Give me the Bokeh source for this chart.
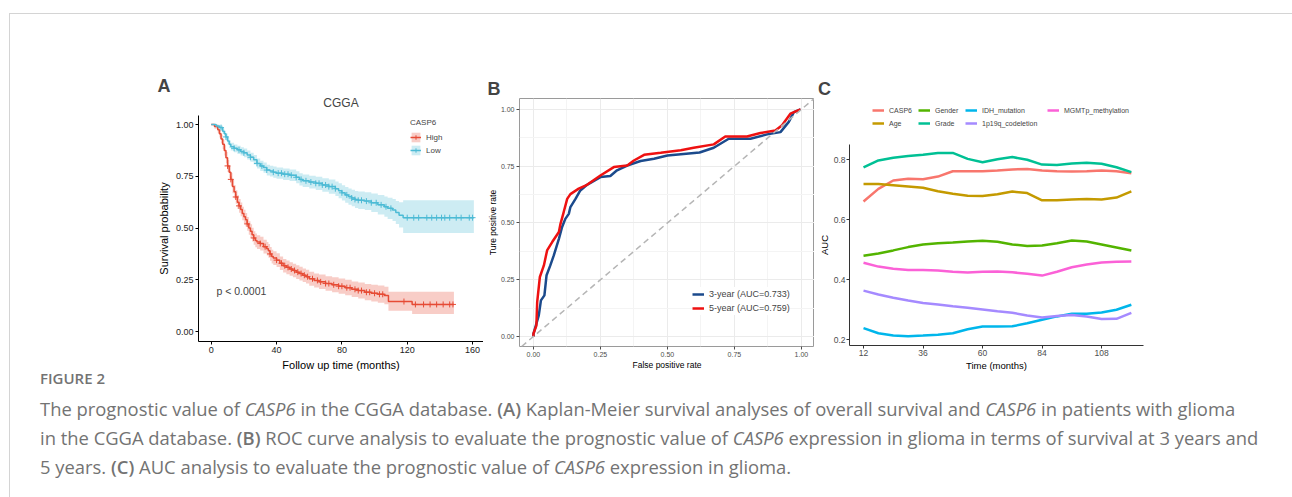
import numpy as np
from bokeh.plotting import figure
from bokeh.models import (Label, Legend, LegendItem, Slope, Div, Spacer, FixedTicker,
                          NumeralTickFormatter, Title)
from bokeh.layouts import row, column
from bokeh.embed import file_html
from bokeh.resources import INLINE

# ---------------- Panel A: Kaplan-Meier (CGGA) ----------------
high_t = [0, 2, 4, 5, 6, 7, 8, 9, 10, 11, 12, 13, 14, 15, 16, 17, 18, 19, 20, 21, 22, 23, 24, 25, 26, 27, 28,
          30, 32, 34, 35, 36, 37, 38, 40, 42, 44, 46, 48, 50, 52, 54, 56, 58, 60, 63, 66, 70, 74, 78, 82, 86,
          90, 94, 98, 102, 106, 108.5, 123, 148.6]
high_s = [1.000, 0.990, 0.975, 0.955, 0.930, 0.905, 0.875, 0.840, 0.800, 0.770, 0.735, 0.700, 0.675, 0.650,
          0.625, 0.607, 0.590, 0.570, 0.555, 0.540, 0.520, 0.500, 0.485, 0.468, 0.452, 0.440, 0.432,
          0.425, 0.410, 0.400, 0.390, 0.375, 0.362, 0.355, 0.345, 0.330, 0.318, 0.310, 0.302, 0.295, 0.287,
          0.280, 0.272, 0.265, 0.255, 0.247, 0.240, 0.232, 0.226, 0.219, 0.212, 0.204,
          0.198, 0.190, 0.185, 0.180, 0.174, 0.145, 0.131, 0.131]
high_lo = [1.000, 0.980, 0.960, 0.937, 0.909, 0.882, 0.850, 0.813, 0.771, 0.740, 0.704, 0.668, 0.643, 0.617,
           0.592, 0.574, 0.557, 0.537, 0.522, 0.507, 0.487, 0.467, 0.452, 0.435, 0.419, 0.407, 0.399,
           0.392, 0.377, 0.367, 0.357, 0.342, 0.329, 0.322, 0.312, 0.297, 0.285, 0.277, 0.269, 0.262, 0.254,
           0.247, 0.239, 0.232, 0.221, 0.213, 0.205, 0.197, 0.190, 0.183, 0.175, 0.167,
           0.160, 0.151, 0.145, 0.139, 0.132, 0.100, 0.085, 0.085]
high_hi = [1.000, 1.000, 0.990, 0.973, 0.951, 0.928, 0.900, 0.867, 0.829, 0.800, 0.766, 0.732, 0.707, 0.683,
           0.658, 0.640, 0.623, 0.603, 0.588, 0.573, 0.553, 0.533, 0.518, 0.501, 0.485, 0.473, 0.465,
           0.458, 0.443, 0.433, 0.423, 0.408, 0.395, 0.388, 0.378, 0.363, 0.351, 0.343, 0.335, 0.328, 0.320,
           0.313, 0.305, 0.298, 0.289, 0.281, 0.275, 0.267, 0.262, 0.256, 0.250, 0.242,
           0.237, 0.230, 0.226, 0.222, 0.217, 0.192, 0.192, 0.192]
high_censor = [10, 12, 15, 17, 22, 26, 30, 33, 36, 40, 43, 45, 47, 49, 51, 53, 55, 57, 59, 62, 65, 67, 70,
               72, 75, 78, 80, 83, 85, 88, 90, 92, 95, 97, 100, 103, 105, 118, 125, 130, 134, 138, 142, 146, 148]

low_t = [0, 3, 5, 7, 8, 9, 10, 11, 12, 14, 16, 18, 20, 22, 24, 26, 28, 30, 32, 34, 36, 38, 40, 44, 48, 52,
         54, 56, 60, 64, 68, 72, 76, 78, 80, 82, 84, 86, 88, 90, 94, 98, 102, 106, 108, 111, 113, 115, 117.5,
         160.8]
low_s = [1.000, 0.993, 0.985, 0.968, 0.955, 0.940, 0.920, 0.905, 0.893, 0.885, 0.878, 0.870, 0.863, 0.853,
         0.842, 0.830, 0.812, 0.800, 0.792, 0.780, 0.775, 0.770, 0.765, 0.760, 0.755, 0.745,
         0.735, 0.728, 0.722, 0.716, 0.708, 0.700, 0.690, 0.680, 0.670, 0.660, 0.652, 0.645, 0.638, 0.634,
         0.630, 0.622, 0.612, 0.603, 0.595, 0.587, 0.575, 0.562, 0.550, 0.550]
low_lo = [1.000, 0.986, 0.975, 0.955, 0.940, 0.924, 0.903, 0.887, 0.874, 0.866, 0.858, 0.850, 0.842, 0.831,
          0.820, 0.807, 0.788, 0.775, 0.767, 0.754, 0.749, 0.743, 0.738, 0.732, 0.727, 0.716,
          0.705, 0.698, 0.691, 0.684, 0.675, 0.666, 0.655, 0.644, 0.633, 0.622, 0.613, 0.605, 0.597, 0.592,
          0.587, 0.577, 0.565, 0.554, 0.544, 0.534, 0.519, 0.503, 0.476, 0.476]
low_hi = [1.000, 1.000, 0.995, 0.981, 0.970, 0.956, 0.937, 0.923, 0.912, 0.904, 0.898, 0.890, 0.884, 0.875,
          0.864, 0.853, 0.836, 0.825, 0.817, 0.806, 0.801, 0.797, 0.792, 0.788, 0.783, 0.774,
          0.765, 0.758, 0.753, 0.748, 0.741, 0.734, 0.725, 0.716, 0.707, 0.698, 0.691, 0.685, 0.679, 0.676,
          0.673, 0.667, 0.659, 0.652, 0.646, 0.640, 0.631, 0.624, 0.634, 0.634]
low_censor = [6, 9, 14, 17, 20, 24, 28, 31, 34, 38, 41, 43, 45, 47, 49, 52, 55, 58, 61, 64, 66, 68, 70, 72,
              74, 76, 80, 83, 86, 88, 90, 92, 95, 98, 101, 104, 107, 110, 120, 124, 127, 132, 135, 138, 141,
              143, 146, 150, 153, 158, 160]

# ---------------- Panel B: ROC ----------------
roc3_fpr = [0.0, 0.0, 0.020, 0.028, 0.041, 0.049, 0.063, 0.076, 0.095, 0.107, 0.119, 0.132, 0.138, 0.157,
            0.175, 0.200, 0.250, 0.287, 0.312, 0.350, 0.400, 0.450, 0.500, 0.620, 0.673, 0.729, 0.810, 0.872,
            0.922, 0.953, 0.972, 0.997]
roc3_tpr = [0.0, 0.012, 0.093, 0.159, 0.181, 0.270, 0.313, 0.357, 0.430, 0.482, 0.518, 0.540, 0.570, 0.606,
            0.643, 0.668, 0.702, 0.707, 0.732, 0.753, 0.773, 0.783, 0.797, 0.810, 0.831, 0.871, 0.871, 0.890,
            0.900, 0.945, 0.988, 1.000]
roc5_fpr = [0.0, 0.0, 0.011, 0.014, 0.024, 0.039, 0.051, 0.070, 0.095, 0.101, 0.113, 0.126, 0.138, 0.169,
            0.200, 0.250, 0.300, 0.350, 0.375, 0.413, 0.475, 0.550, 0.598, 0.673, 0.716, 0.797, 0.847, 0.903,
            0.928, 0.959, 0.997]
roc5_tpr = [0.0, 0.012, 0.048, 0.151, 0.262, 0.313, 0.379, 0.416, 0.460, 0.496, 0.548, 0.606, 0.627, 0.651,
            0.668, 0.709, 0.746, 0.753, 0.775, 0.800, 0.809, 0.820, 0.831, 0.846, 0.881, 0.881, 0.896, 0.907,
            0.930, 0.981, 1.000]
roc_labels = ["3-year (AUC=0.733)", "5-year (AUC=0.759)"]

# ---------------- Panel C: time-dependent AUC ----------------
months = [12, 18, 24, 30, 36, 42, 48, 54, 60, 66, 72, 78, 84, 90, 96, 102, 108, 114, 120]
auc_series = {
    "CASP6": [0.660, 0.702, 0.730, 0.736, 0.734, 0.743, 0.761, 0.761, 0.761, 0.763, 0.767, 0.768, 0.763, 0.761,
              0.760, 0.761, 0.763, 0.761, 0.754],
    "Age": [0.718, 0.718, 0.714, 0.710, 0.706, 0.694, 0.686, 0.679, 0.678, 0.684, 0.693, 0.688, 0.664, 0.664,
            0.667, 0.668, 0.667, 0.673, 0.694],
    "Gender": [0.479, 0.487, 0.497, 0.508, 0.517, 0.521, 0.523, 0.527, 0.529, 0.526, 0.517, 0.512, 0.513, 0.521,
               0.530, 0.527, 0.517, 0.507, 0.497],
    "Grade": [0.774, 0.797, 0.806, 0.812, 0.816, 0.822, 0.822, 0.802, 0.791, 0.801, 0.808, 0.799, 0.783, 0.782,
              0.787, 0.789, 0.786, 0.774, 0.758],
    "IDH_mutation": [0.238, 0.221, 0.213, 0.211, 0.213, 0.216, 0.221, 0.234, 0.243, 0.243, 0.244, 0.254, 0.266,
                     0.277, 0.286, 0.286, 0.290, 0.299, 0.316],
    "1p19q_codeletion": [0.363, 0.350, 0.339, 0.330, 0.322, 0.317, 0.311, 0.306, 0.300, 0.294, 0.289, 0.280,
                         0.273, 0.278, 0.282, 0.277, 0.268, 0.269, 0.289],
    "MGMTp_methylation": [0.456, 0.443, 0.436, 0.432, 0.432, 0.430, 0.426, 0.423, 0.426, 0.427, 0.424, 0.419,
                          0.413, 0.426, 0.441, 0.450, 0.457, 0.459, 0.460],
}
auc_colors = {"CASP6": "#F8766D", "Age": "#C49A00", "Gender": "#53B400", "Grade": "#00C094",
              "IDH_mutation": "#00B6EB", "1p19q_codeletion": "#A58AFF", "MGMTp_methylation": "#FB61D7"}
# legend grid slot of each series: (row, column), filled column by column as ggplot does
auc_legend_slot = {"CASP6": (0, 0), "Age": (1, 0), "Gender": (0, 1), "Grade": (1, 1),
                   "IDH_mutation": (0, 2), "1p19q_codeletion": (1, 2), "MGMTp_methylation": (0, 3)}

FONT = "Liberation Sans"
RED = "#E64B35"
BLUE = "#4DBBD5"


def style_axes(p, tick_size, label_size, tick_color, line_color, lab_standoff=2, title_standoff=3):
    for ax in (p.xaxis[0], p.yaxis[0]):
        ax.major_label_text_font = FONT
        ax.major_label_text_font_size = tick_size
        ax.major_label_text_color = tick_color
        ax.axis_label_text_font = FONT
        ax.axis_label_text_font_size = label_size
        ax.axis_label_text_font_style = "normal"
        ax.axis_label_text_color = "black"
        ax.axis_line_color = line_color
        ax.major_tick_line_color = line_color
        ax.major_tick_out = 3
        ax.major_tick_in = 0
        ax.minor_tick_line_color = None
        ax.major_label_standoff = lab_standoff
        ax.axis_label_standoff = title_standoff


def panel_title(text, offset, size="18px", bold=True, align="left", standoff=0):
    return Title(text=text, align=align, offset=offset, text_font=FONT, text_font_size=size,
                 text_font_style="bold" if bold else "normal", standoff=standoff)


# ===== Panel A =====
pA = figure(width=333, height=298, x_range=(-7.8, 166.7), y_range=(-0.048, 1.0435),
            output_backend="svg", toolbar_location=None,
            min_border_left=48, min_border_right=0, min_border_top=39, min_border_bottom=33)
pA.grid.visible = False
pA.outline_line_color = None
pA.xaxis.axis_label = "Follow up time (months)"
pA.yaxis.axis_label = "Survival probability"
pA.xaxis.ticker = FixedTicker(ticks=[0, 40, 80, 120, 160])
pA.yaxis.ticker = FixedTicker(ticks=[0, 0.25, 0.5, 0.75, 1.0])
pA.yaxis.formatter = NumeralTickFormatter(format="0.00")
style_axes(pA, "9px", "11px", "#222222", "black")
pA.add_layout(panel_title("CGGA", 0, size="12px", bold=False, align="center", standoff=11), "above")
pA.add_layout(panel_title("A", -41, standoff=-15), "above")

items = []
for name, t, s, lo, hi, cens, col in [("High", high_t, high_s, high_lo, high_hi, high_censor, RED),
                                       ("Low", low_t, low_s, low_lo, low_hi, low_censor, BLUE)]:
    band = pA.varea_step(x=t, y1=lo, y2=hi, step_mode="after", fill_color=col, fill_alpha=0.28)
    ln = pA.step(t, s, mode="after", line_color=col, line_width=1.5)
    tt = np.array(t)
    idx = np.searchsorted(tt, np.array(cens), side="right") - 1
    cy = np.array(s)[idx]
    cm = pA.scatter(cens, cy, marker="cross", size=6, line_color=col, line_width=1)
    items.append(LegendItem(label=name, renderers=[band, ln, cm]))

legA = Legend(items=items, title="CASP6", location=(212, 185), orientation="vertical",
              glyph_width=11, glyph_height=12, label_height=12, spacing=1, padding=0, margin=0,
              label_standoff=5, background_fill_alpha=0, border_line_color=None,
              label_text_font=FONT, label_text_font_size="8px", title_text_font=FONT,
              title_text_font_size="8px", title_text_font_style="normal", title_standoff=4)
pA.add_layout(legA, "center")
pA.add_layout(Label(x=3.2, y=0.198, text="p < 0.0001", text_font=FONT, text_font_size="10.5px",
                    text_baseline="middle"))

# ===== Panel B =====
pB = figure(width=331, height=298, x_range=(-0.052, 1.049), y_range=(-0.044, 1.048),
            output_backend="svg", toolbar_location=None,
            min_border_left=36, min_border_right=0, min_border_top=22, min_border_bottom=28)
pB.outline_line_color = "#9a9a9a"
pB.outline_line_width = 1
ticksB = FixedTicker(ticks=[0, 0.25, 0.5, 0.75, 1.0], minor_ticks=[0.125, 0.375, 0.625, 0.875])
pB.xaxis.ticker = ticksB
pB.yaxis.ticker = ticksB
pB.xaxis.formatter = NumeralTickFormatter(format="0.00")
pB.yaxis.formatter = NumeralTickFormatter(format="0.00")
pB.xaxis.axis_label = "False positive rate"
pB.yaxis.axis_label = "Ture positive rate"
style_axes(pB, "7px", "8.5px", "#4d4d4d", "#4d4d4d", lab_standoff=1, title_standoff=0)
pB.xaxis.axis_line_color = None
pB.yaxis.axis_line_color = None
pB.grid.grid_line_color = "#ebebeb"
pB.grid.minor_grid_line_color = "#f4f4f4"
pB.add_layout(Slope(gradient=1, y_intercept=0, line_color="#b5b5b5", line_width=1.5, line_dash="6 4"))
l3 = pB.line(roc3_fpr, roc3_tpr, line_color="#1B4A8C", line_width=2.5)
l5 = pB.line(roc5_fpr, roc5_tpr, line_color="#EE1111", line_width=2.5)
legB = Legend(items=[LegendItem(label=roc_labels[0], renderers=[l3]),
                     LegendItem(label=roc_labels[1], renderers=[l5])],
              location=(173, 31), glyph_width=12, glyph_height=14, label_height=14, spacing=0,
              padding=7, margin=0, label_standoff=5, background_fill_color="white",
              background_fill_alpha=1, border_line_color=None,
              label_text_font=FONT, label_text_font_size="9px")
pB.add_layout(legB, "center")
pB.add_layout(panel_title("B", -32), "above")

# ===== Panel C: legend strip + plot =====
stripC = figure(width=346, height=59, x_range=(0, 346), y_range=(0, 59), output_backend="svg",
                toolbar_location=None, x_axis_type=None, y_axis_type=None,
                min_border_left=0, min_border_right=0, min_border_top=0, min_border_bottom=0)
stripC.grid.visible = False
stripC.outline_line_color = None
col_x = [58, 104, 151, 233]
row_vy = [20, 7]
for name in auc_series:
    # legend-only key renderer (draws nothing itself)
    key = stripC.line(x=[np.nan], y=[np.nan], line_color=auc_colors[name], line_width=2.5)
    rr, cc = auc_legend_slot[name]
    stripC.add_layout(Legend(items=[LegendItem(label=name, renderers=[key])],
                             location=(col_x[cc], row_vy[rr]), glyph_width=12, glyph_height=10,
                             label_height=10, padding=0, margin=0, spacing=0, label_standoff=5,
                             background_fill_alpha=0, border_line_color=None,
                             label_text_font=FONT, label_text_font_size="7px"), "center")
stripC.add_layout(Label(x=10, y=47, text="C", text_font=FONT, text_font_size="18px",
                        text_font_style="bold", text_align="center", text_baseline="middle"))

pC = figure(width=346, height=239, x_range=(6.35, 124.9), y_range=(0.18, 0.85),
            output_backend="svg", toolbar_location=None,
            min_border_left=35, min_border_right=17, min_border_top=9, min_border_bottom=29)
pC.grid.visible = False
pC.outline_line_color = None
pC.xaxis.ticker = FixedTicker(ticks=[12, 36, 60, 84, 108])
pC.yaxis.ticker = FixedTicker(ticks=[0.2, 0.4, 0.6, 0.8])
pC.xaxis.axis_label = "Time (months)"
pC.yaxis.axis_label = "AUC"
style_axes(pC, "8.5px", "9.5px", "#4d4d4d", "#333333", lab_standoff=1, title_standoff=1)
for name, vals in auc_series.items():
    pC.line(months, vals, line_color=auc_colors[name], line_width=2.5)

# ===== Caption =====
caption_html = (
    "<div style=\"font-family:'Open Sans';color:#737373;padding-left:30px;white-space:nowrap;\">"
    "<div style='font-size:15px;font-weight:600;line-height:8px;'>FIGURE 2</div>"
    "<div style='font-size:18.4px;line-height:29px;margin-top:12px;'>"
    "The prognostic value of <i>CASP6</i> in the CGGA database. <b style='font-weight:600'>(A)</b> "
    "Kaplan-Meier survival analyses of overall survival and <i>CASP6</i> in patients with glioma<br>"
    "in the CGGA database. <b style='font-weight:600'>(B)</b> ROC curve analysis to evaluate the prognostic "
    "value of <i>CASP6</i> expression in glioma in terms of survival at 3 years and<br>"
    "5 years. <b style='font-weight:600'>(C)</b> AUC analysis to evaluate the prognostic value of "
    "<i>CASP6</i> expression in glioma.</div></div>"
)
caption = Div(text=caption_html, width=1270, height=110, margin=0)

panels = row(Spacer(width=140, height=298, margin=0), column(pA), column(pB),
             column(column(stripC), column(pC), spacing=0), spacing=0)
inner = column(Spacer(width=1270, height=62, margin=0), panels, caption, spacing=0)
hline = Div(text="", width=1283, height=1, margin=0, styles={"background-color": "#d4d4d4"})
vline = Div(text="", width=1, height=483, margin=0, styles={"background-color": "#d4d4d4"})
layout = column(Spacer(width=1292, height=13, margin=0),
                row(Spacer(width=9, height=484, margin=0),
                    column(hline, row(vline, inner, spacing=0), spacing=0), spacing=0),
                spacing=0)

open("out.html", "w").write(file_html(layout, INLINE))
